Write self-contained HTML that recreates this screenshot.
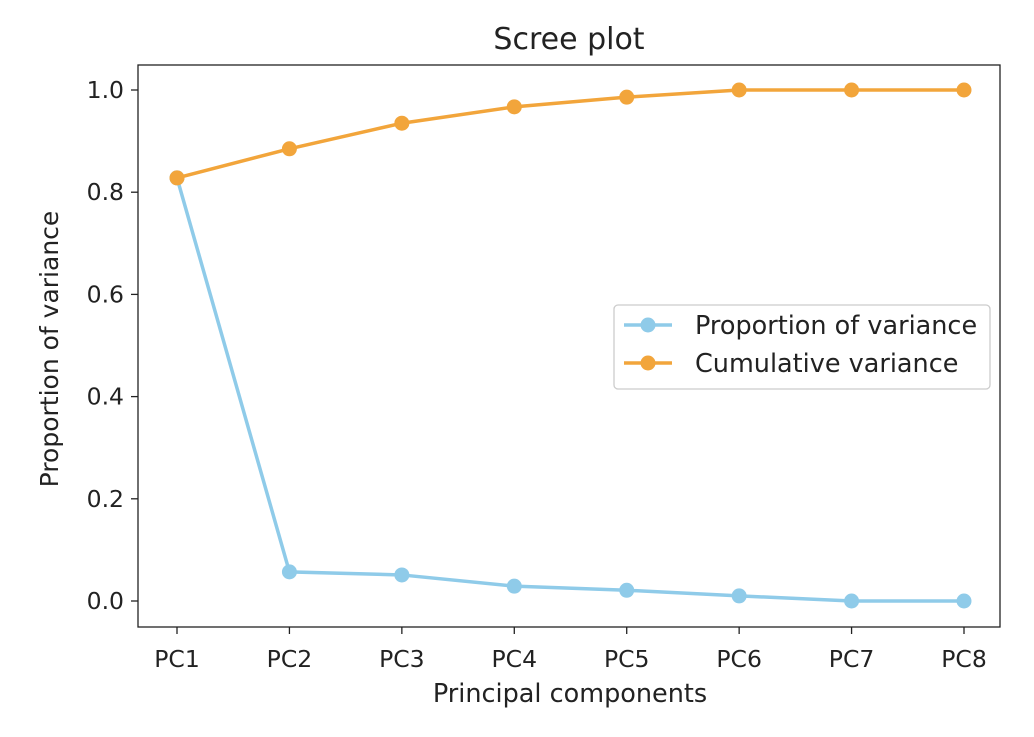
<!DOCTYPE html>
<html><head><meta charset="utf-8"><style>
body{margin:0;background:#fff;}
svg text{font-family:"DejaVu Sans","Liberation Sans",sans-serif;fill:#222;}
</style></head><body>
<svg id="chart" width="1034" height="732" xmlns="http://www.w3.org/2000/svg">
<text x="569" y="49" font-size="30" text-anchor="middle">Scree plot</text>
<g id="grid"></g>
<rect x="138" y="65" width="862" height="562" fill="none" stroke="#222" stroke-width="1.3"/>
<g id="marks"></g>
<text x="570" y="702" font-size="25.5" text-anchor="middle">Principal components</text>
<text transform="translate(58,349) rotate(-90)" font-size="25" text-anchor="middle">Proportion of variance</text>
<g>
<rect x="614" y="305" width="376" height="84" rx="4" fill="#fff" stroke="#ccc" stroke-width="1.3"/>
<g>
<line x1="624" y1="325" x2="672" y2="325" stroke="#8fcbe9" stroke-width="3.5"/>
<circle cx="648" cy="325" r="7.5" fill="#8fcbe9"/>
<text x="695" y="334" font-size="25.5">Proportion of variance</text></g>
<g>
<line x1="624" y1="363" x2="672" y2="363" stroke="#f2a53b" stroke-width="3.5"/>
<circle cx="648" cy="363" r="7.5" fill="#f2a53b"/>
<text x="695" y="372" font-size="25.5">Cumulative variance</text></g>
</g>
</svg>
<script>
const categories=["PC1","PC2","PC3","PC4","PC5","PC6","PC7","PC8"];
const proportion=[0.828,0.057,0.051,0.029,0.021,0.010,0.000,0.000];
const cumulative=[0.828,0.885,0.935,0.967,0.986,1.000,1.000,1.000];
const yTicks=[0.0,0.2,0.4,0.6,0.8,1.0];
const NS="http://www.w3.org/2000/svg";
const xs=i=>177+i*(964-177)/(categories.length-1);
const ys=v=>601-v*511;
const grid=document.getElementById('grid'),marks=document.getElementById('marks');
function mk(tag,attrs,parent){const e=document.createElementNS(NS,tag);for(const k in attrs)e.setAttribute(k,attrs[k]);parent.appendChild(e);return e;}
yTicks.forEach(t=>{
 const l=mk('line',{x1:131,x2:138,y1:ys(t),y2:ys(t),stroke:'#222','stroke-width':1.3},grid);
 
 
 const tx=mk('text',{x:124,y:ys(t)+8,'font-size':23.5,'text-anchor':'end'},grid);tx.textContent=t.toFixed(1);
 
 
});
categories.forEach((c,i)=>{
 const l=mk('line',{x1:xs(i),x2:xs(i),y1:627,y2:634,stroke:'#222','stroke-width':1.3},grid);
 
 
 const tx=mk('text',{x:xs(i),y:667,'font-size':23.5,'text-anchor':'middle'},grid);tx.textContent=c;
 
 
});
[[proportion,'#8fcbe9','proportion'],[cumulative,'#f2a53b','cumulative']].forEach(([d,col,n])=>{
 const p=mk('polyline',{points:d.map((v,i)=>xs(i)+','+ys(v)).join(' '),fill:'none',stroke:col,'stroke-width':3.5},marks);
 
 
 d.forEach((v,i)=>{const c=mk('circle',{cx:xs(i),cy:ys(v),r:7.5,fill:col},marks);
  
  });
});
</script>
</body></html>
